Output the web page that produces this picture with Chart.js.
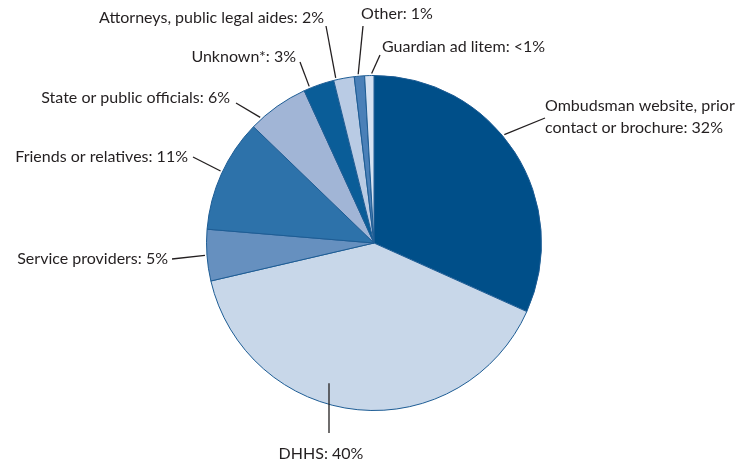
<!DOCTYPE html>
<html>
<head>
<meta charset="utf-8">
<script src="https://cdn.jsdelivr.net/npm/chart.js"></script>
<style>
  html, body { margin: 0; padding: 0; background: #fff; }
  #wrap { width: 746px; height: 463px; }
</style>
</head>
<body>
<div id="wrap"><canvas id="referralChart"></canvas></div>
<script>
// data, clockwise from 12 o'clock
const categories = ['Ombudsman website, prior contact or brochure', 'DHHS', 'Service providers',
  'Friends or relatives', 'State or public officials', 'Unknown*', 'Attorneys, public legal aides',
  'Other', 'Guardian ad litem'];
const shares = [32, 40, 5, 11, 6, 3, 2, 1, 0.9];
const shareLabels = ['32%', '40%', '5%', '11%', '6%', '3%', '2%', '1%', '<1%'];
const sliceColors = ['#004f89', '#c8d7e9', '#6690bf', '#2d72aa', '#a1b5d6', '#0a5d98', '#b9cbe4', '#4a80b8', '#d5e1f1'];

// label placement, relative to pie centre: text anchor, leader end, where on the slice the leader starts
const labelLayout = [
  { tx: 171, ty: -137, align: 'left', lx: 171, ly: -125, frac: 0.44, lines: ['Ombudsman website, prior', 'contact or brochure: 32%'] },
  { tx: -53, ty: 211, align: 'center', lx: -45, ly: 190, frac: 0.72, straight: true, gap: 6 },
  { tx: -206, ty: 16, align: 'right', lx: -202, ly: 16, frac: 0.5 },
  { tx: -186, ty: -86, align: 'right', lx: -181, ly: -86, frac: 0.52 },
  { tx: -144, ty: -145, align: 'right', lx: -138, ly: -140, frac: 0.18 },
  { tx: -78, ty: -186, align: 'right', lx: -74, ly: -181, frac: 0.2 },
  { tx: -50, ty: -225, align: 'right', lx: -48, ly: -217, frac: 0.12 },
  { tx: -13, ty: -229, align: 'left', lx: -11, ly: -217, frac: 0.4 },
  { tx: 8, ty: -196, align: 'left', lx: 6, ly: -188, frac: 0.75 }
];

const leaderLabels = {
  id: 'leaderLabels',
  afterDatasetsDraw(chart) {
    const ctx = chart.ctx;
    const arcs = chart.getDatasetMeta(0).data;
    ctx.save();
    ctx.font = '16px Lato, "Noto Sans", sans-serif';
    ctx.fillStyle = '#231f20';
    ctx.strokeStyle = '#231f20';
    ctx.lineWidth = 1.3;
    arcs.forEach((arc, i) => {
      const L = labelLayout[i];
      const cx = arc.x, cy = arc.y;
      const a = arc.startAngle + (arc.endAngle - arc.startAngle) * L.frac;
      const r = arc.outerRadius + 2 + (L.gap || 0);
      let sx = cx + Math.cos(a) * r, sy = cy + Math.sin(a) * r;
      const ex = cx + L.lx, ey = cy + L.ly;
      if (L.straight) sx = ex;
      ctx.beginPath();
      ctx.moveTo(sx, sy);
      ctx.lineTo(ex, ey);
      ctx.stroke();
      const lines = L.lines || [categories[i] + ': ' + shareLabels[i]];
      ctx.textAlign = L.align;
      ctx.textBaseline = 'middle';
      lines.forEach((t, k) => ctx.fillText(t, cx + L.tx, cy + L.ty + k * 22));
    });
    ctx.restore();
  }
};

new Chart(document.getElementById('referralChart'), {
  type: 'pie',
  data: {
    labels: categories,
    datasets: [{
      data: shares,
      backgroundColor: sliceColors,
      borderColor: '#1d5c94',
      borderWidth: 1
    }]
  },
  options: {
    responsive: true,
    maintainAspectRatio: false,
    animation: false,
    layout: { padding: { left: 206, right: 204, top: 74, bottom: 51 } },
    plugins: {
      legend: { display: false },
      tooltip: { enabled: false }
    }
  },
  plugins: [leaderLabels]
});
</script>
</body>
</html>
